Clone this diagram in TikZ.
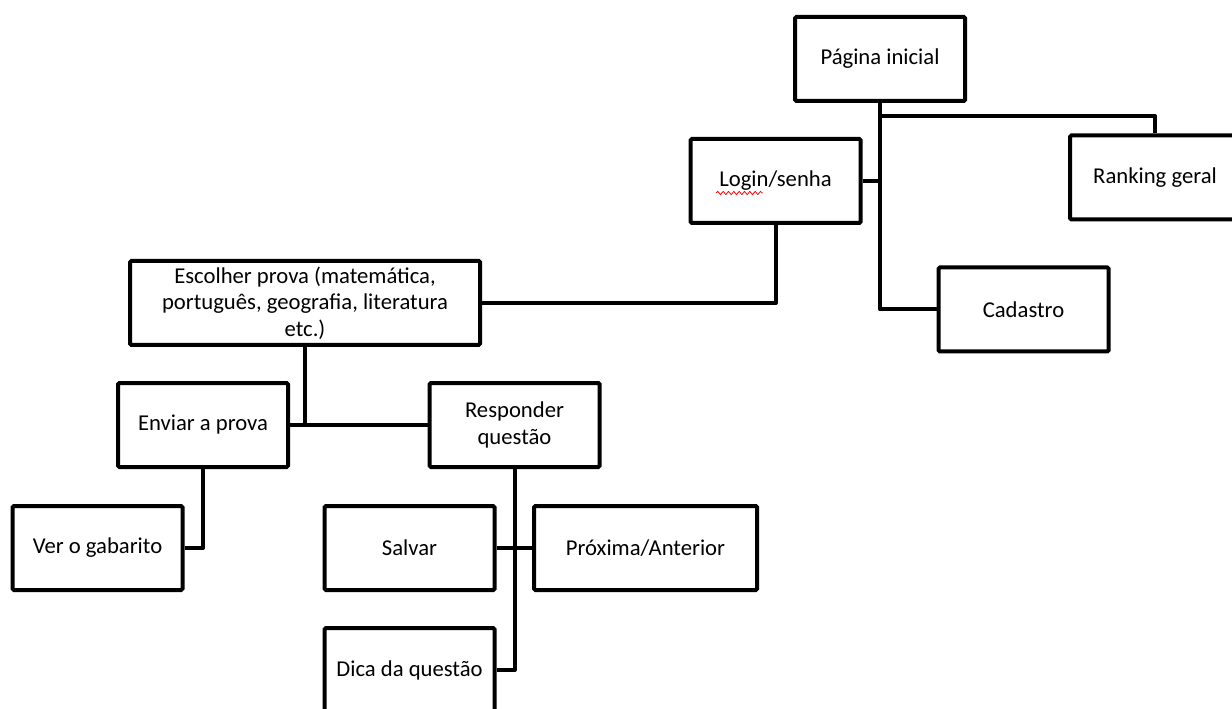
\documentclass[tikz,border=0pt]{standalone}
\usepackage{fontspec}
\setmainfont{Carlito}
\usetikzlibrary{decorations.pathmorphing}
\tikzset{
  box/.style={draw, line width=3pt, minimum width=127.5pt, minimum height=63pt,
    align=center, inner sep=2pt, font=\fontsize{17}{20}\selectfont, rounded corners=1pt},
  conn/.style={draw, line width=3pt, line join=round}
}
\begin{document}
\begin{tikzpicture}[x=0.75pt,y=-0.75pt]
\clip (0,0) rectangle (1232,709);
\fill[white] (0,0) rectangle (1232,709);
\node[box] (pag) at (880,59) {Página inicial};
\node[box] (login) at (775.5,181) {Login/senha};
\node[box] (rank) at (1155,177.5) {Ranking geral};
\node[box] (cad) at (1023.5,309.5) {Cadastro};
\node[box, minimum width=262.5pt] (esc) at (305,303) {Escolher prova (matemática,\\ português, geografia, literatura\\ etc.)};
\node[box] (env) at (203,425) {Enviar a prova};
\node[box] (resp) at (514.5,425) {Responder\\ questão};
\node[box] (ver) at (97.5,548) {Ver o gabarito};
\node[box] (salv) at (409.5,548) {Salvar};
\node[box, minimum width=167.25pt] (prox) at (645.5,548) {Próxima/Anterior};
\node[box] (dica) at (409.5,670) {Dica da questão};
\coordinate (j1) at (880,116);
% red wavy underline under "Login"
\draw[red, line width=0.6pt, decorate, decoration={snake, amplitude=1.2pt, segment length=4pt}]
  ([xshift=-44.5pt,yshift=-9pt]login.center) -- ([xshift=-9.5pt,yshift=-9pt]login.center);
% connectors
\draw[conn] (pag.south) |- (cad.west);
\draw[conn] (login.east) -- (login.east -| pag.south);
\draw[conn] (j1) -| (rank.north);
\draw[conn] (login.south) |- (esc.east);
\draw[conn] (esc.south) -- (esc.south |- env.east);
\draw[conn] (env.east) -- (resp.west);
\draw[conn] (env.south) |- (ver.east);
\draw[conn] (resp.south) |- (dica.east);
\draw[conn] (salv.east) -- (prox.west);
\end{tikzpicture}
\end{document}
